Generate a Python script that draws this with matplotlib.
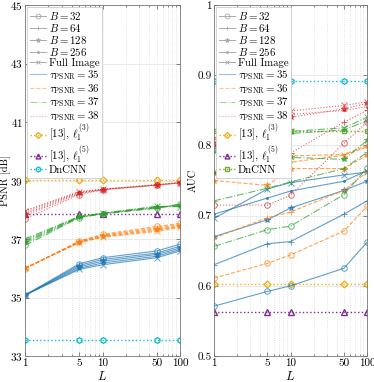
import numpy as np
import matplotlib
matplotlib.use('Agg')
import matplotlib.pyplot as plt
from matplotlib.lines import Line2D
from matplotlib import rcParams

rcParams['font.family'] = 'serif'
rcParams['font.serif'] = ['cmr10', 'DejaVu Serif']
rcParams['mathtext.fontset'] = 'cm'
rcParams['axes.formatter.use_mathtext'] = True
rcParams['font.size'] = 8

L = [1, 5, 10, 50, 100]
B_labels = ['$B = 32$', '$B = 64$', '$B = 128$', '$B = 256$', 'Full Image']
tau_labels = [r'$\tau_{\rm PSNR} = 35$', r'$\tau_{\rm PSNR} = 36$',
              r'$\tau_{\rm PSNR} = 37$', r'$\tau_{\rm PSNR} = 38$']

# PSNR, rows = B=32, 64, 128, 256, Full Image
psnr_tau35 = [[35.08, 36.15, 36.36, 36.59, 36.82],
              [35.08, 36.10, 36.30, 36.52, 36.75],
              [35.08, 36.05, 36.24, 36.47, 36.69],
              [35.08, 36.00, 36.18, 36.41, 36.64],
              [35.08, 35.96, 36.12, 36.36, 36.59]]
psnr_tau36 = [[35.98, 36.93, 37.16, 37.43, 37.53],
              [35.99, 36.91, 37.13, 37.38, 37.49],
              [36.00, 36.90, 37.10, 37.34, 37.45],
              [36.00, 36.88, 37.08, 37.30, 37.42],
              [36.01, 36.87, 37.06, 37.26, 37.40]]
psnr_tau37 = [[36.78, 37.73, 37.86, 38.05, 38.20],
              [36.85, 37.74, 37.87, 38.07, 38.15],
              [36.90, 37.75, 37.87, 38.08, 38.17],
              [36.95, 37.76, 37.88, 38.10, 38.12],
              [37.00, 37.77, 37.88, 38.12, 38.10]]
psnr_tau38 = [[37.69, 38.52, 38.68, 38.84, 38.92],
              [37.80, 38.55, 38.69, 38.84, 38.92],
              [37.86, 38.58, 38.69, 38.85, 38.92],
              [37.92, 38.60, 38.70, 38.85, 38.93],
              [37.97, 38.62, 38.70, 38.86, 38.93]]
psnr_l13 = 39.02
psnr_l15 = 37.85
psnr_dncnn = 33.55

# AUC
auc_tau35 = [[0.571, 0.592, 0.600, 0.625, 0.662],
             [0.630, 0.660, 0.663, 0.702, 0.721],
             [0.670, 0.694, 0.711, 0.736, 0.749],
             [0.702, 0.725, 0.735, 0.749, 0.764],
             [0.696, 0.738, 0.747, 0.758, 0.762]]
auc_tau36 = [[0.611, 0.632, 0.644, 0.678, 0.713],
             [0.668, 0.697, 0.705, 0.736, 0.762],
             [0.750, 0.743, 0.767, 0.767, 0.786],
             [0.760, 0.757, 0.776, 0.786, 0.798],
             [0.762, 0.772, 0.785, 0.787, 0.800]]
auc_tau37 = [[0.656, 0.680, 0.685, 0.730, 0.768],
             [0.721, 0.739, 0.748, 0.767, 0.790],
             [0.760, 0.780, 0.783, 0.780, 0.807],
             [0.790, 0.805, 0.817, 0.822, 0.835],
             [0.795, 0.810, 0.820, 0.825, 0.840]]
auc_tau38 = [[0.715, 0.715, 0.729, 0.803, 0.833],
             [0.762, 0.775, 0.789, 0.833, 0.850],
             [0.800, 0.815, 0.840, 0.852, 0.860],
             [0.805, 0.825, 0.844, 0.850, 0.855],
             [0.810, 0.830, 0.849, 0.857, 0.862]]
auc_l13 = 0.602
auc_l15 = 0.562
auc_dncnn = 0.892
auc_dncnn_sq = 0.821

TAU_COLORS = ['#1f77b4', '#ff7f0e', '#2ca02c', '#d62728']
TAU_STYLES = ['-', '--', '-.', ':']
MARKERS = ['o', '+', '*', '.', 'x']
C_L13 = '#EDB120'
C_L15 = '#7E2F8E'
C_DNCNN = '#17becf'
C_SQ = '#77AC30'

FIG = plt.figure(figsize=(3.74, 3.82), dpi=100)
ax1 = FIG.add_axes([25/374, 1-356/382, 155/374, 351/382])
ax2 = FIG.add_axes([214/374, 1-356/382, 153/374, 351/382])


def draw_tau(ax, sets):
    for t, rows in enumerate(sets):
        for b, row in enumerate(rows):
            mk = MARKERS[b]
            ax.plot(L, row, color=TAU_COLORS[t], ls=TAU_STYLES[t], lw=0.8,
                    marker=mk, ms=4 if mk != '.' else 3,
                    mfc='none' if mk == 'o' else TAU_COLORS[t],
                    mew=0.7, alpha=0.7)


def ref_line(ax, val, color, marker, ms=4):
    ax.plot(L, [val]*len(L), color=color, ls=':', lw=1.0, marker=marker,
            ms=ms, mfc='none', mew=1.0)


def style(ax, yt, ylab_txt, lab_x):
    ax.set_xscale('log')
    ax.set_xlim(1, 100)
    ax.set_xticks(L)
    ax.set_xticklabels([str(v) for v in L])
    ax.set_xticks([2, 3, 4, 6, 7, 8, 9, 20, 30, 40, 60, 70, 80, 90], minor=True)
    ax.set_yticks(yt)
    ax.set_ylim(yt[0], yt[-1])
    ax.grid(True, which='major', axis='y', color='#e6e6e6', lw=0.6)
    ax.grid(True, which='both', axis='x', color='#dcdcdc', lw=0.6, ls=':')
    ax.set_axisbelow(True)
    ax.tick_params(which='both', direction='in', top=True, right=True,
                   labelsize=8, length=3, width=0.5, color='#555555', pad=2)
    ax.tick_params(axis='y', pad=1.5)
    ax.tick_params(which='minor', length=1.5)
    for s in ax.spines.values():
        s.set_color('#777777')
        s.set_linewidth(0.6)
    ax.set_xlabel('$L$', fontsize=9, labelpad=1)
    ax.set_ylabel(ylab_txt, fontsize=7.5)
    ax.yaxis.set_label_coords(lab_x, 0.5)


def legend(ax, last_color, last_marker):
    h = []
    for b, lab in enumerate(B_labels):
        mk = MARKERS[b]
        h.append(Line2D([], [], color='#aaaaaa', lw=0.7, marker=mk,
                        ms=3.5 if mk != '.' else 3,
                        mfc='none' if mk == 'o' else '#aaaaaa', mew=0.6, label=lab))
    for t, lab in enumerate(tau_labels):
        h.append(Line2D([], [], color=TAU_COLORS[t], ls=TAU_STYLES[t], lw=0.8,
                        alpha=0.45, label=lab))
    h.append(Line2D([], [], color=C_L13, ls=':', lw=1.0, marker='D', ms=3,
                    mfc='none', label=r'[13], $\ell_1^{(3)}$'))
    h.append(Line2D([], [], color=C_L15, ls=':', lw=1.0, marker='^', ms=3.5,
                    mfc='none', label=r'[13], $\ell_1^{(5)}$'))
    h.append(Line2D([], [], color=last_color, ls=':', lw=1.0, marker=last_marker,
                    ms=3.5, mfc='none', label='DnCNN'))
    leg = ax.legend(handles=h, loc='upper left', fontsize=7.8, labelspacing=0.0,
                    handlelength=1.5, handletextpad=0.25, borderpad=0.25,
                    borderaxespad=0.2, fancybox=False, framealpha=1)
    leg.get_frame().set_edgecolor('#cccccc')
    leg.get_frame().set_linewidth(0.6)


# left: PSNR
ref_line(ax1, psnr_l13, C_L13, 'D', 3.5)
ref_line(ax1, psnr_l15, C_L15, '^')
ref_line(ax1, psnr_dncnn, C_DNCNN, 'h')
draw_tau(ax1, [psnr_tau35, psnr_tau36, psnr_tau37, psnr_tau38])
style(ax1, [33, 35, 37, 39, 41, 43, 45], 'PSNR [dB]', -0.093)
legend(ax1, C_DNCNN, 'h')

# right: AUC
ref_line(ax2, auc_l13, C_L13, 'D', 3.5)
ref_line(ax2, auc_l15, C_L15, '^')
ref_line(ax2, auc_dncnn, C_DNCNN, 'h')
ref_line(ax2, auc_dncnn_sq, C_SQ, 's', 3.5)
draw_tau(ax2, [auc_tau35, auc_tau36, auc_tau37, auc_tau38])
style(ax2, [0.5, 0.6, 0.7, 0.8, 0.9, 1.0], 'AUC', -0.105)
ax2.set_yticklabels(['0.5', '0.6', '0.7', '0.8', '0.9', '1'])
legend(ax2, C_SQ, 's')

FIG.savefig('out.png', dpi=100)
